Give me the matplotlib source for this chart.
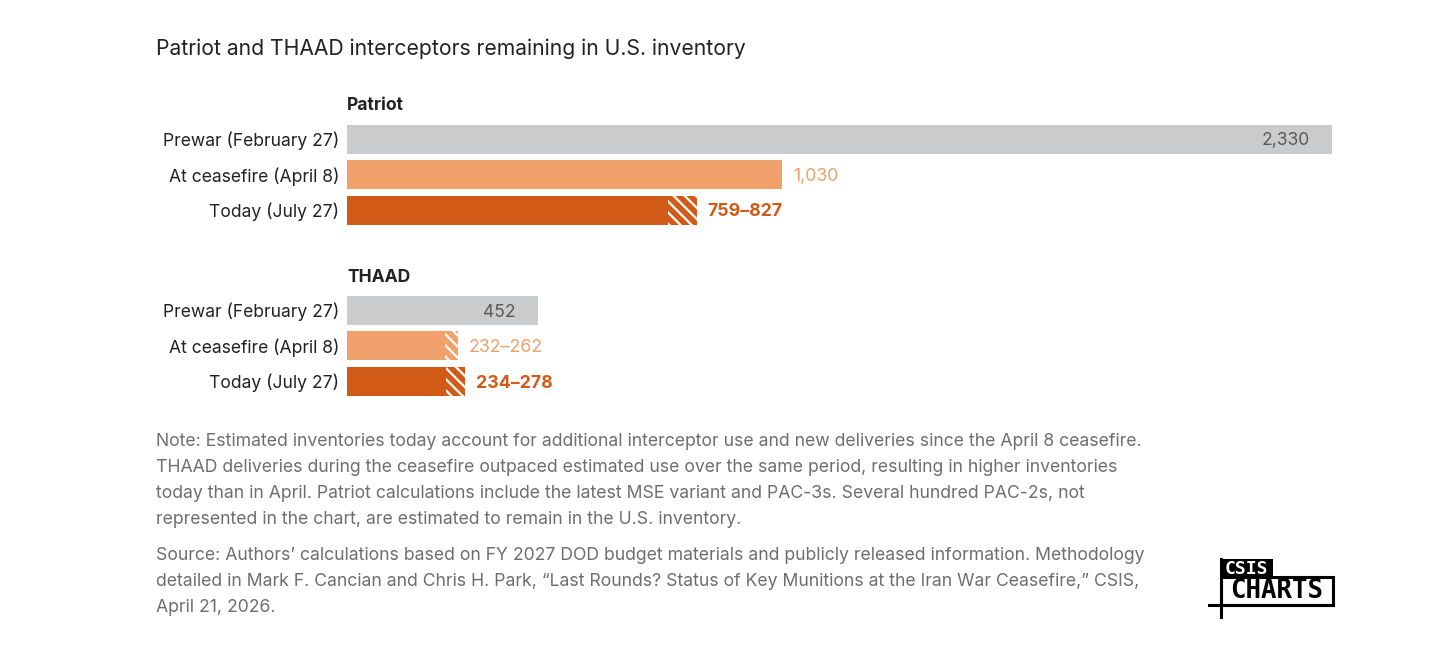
import matplotlib

matplotlib.use("Agg")

import matplotlib.pyplot as plt
from matplotlib.patches import Rectangle
from matplotlib.lines import Line2D

plt.rcParams["font.family"] = ["Inter", "DejaVu Sans"]
plt.rcParams["hatch.linewidth"] = 1.6

# data
groups = ["Patriot", "THAAD"]
categories = ["Prewar (February 27)", "At ceasefire (April 8)", "Today (July 27)"]
patriot_low = [2330, 1030, 759]
patriot_high = [2330, 1030, 827]
thaad_low = [452, 232, 234]
thaad_high = [452, 262, 278]
patriot_labels = ["2,330", "1,030", "759–827"]
thaad_labels = ["452", "232–262", "234–278"]

_C = {
    "prewar": "#c9cbcd",
    "ceasefire": "#f0a06a",
    "today": "#d05a16",
    "prewar_text": "#5a5a5a",
    "text": "#222222",
    "note": "#6e6e6e",
}
bar_colors = [_C["prewar"], _C["ceasefire"], _C["today"]]
label_colors = [_C["prewar_text"], _C["ceasefire"], _C["today"]]
label_weights = ["normal", "normal", "bold"]

W, H = 1456, 651
fig = plt.figure(figsize=(W / 100, H / 100), dpi=100, facecolor="white")

# axes spans x 347..1332 px, y 100..400 px
row_px = 35.5
ax = fig.add_axes([347 / W, 1 - 400 / H, 985 / W, 300 / H])
ax.set_xlim(0, 2330)
ax.set_ylim((400 - 139) / row_px, (100 - 139) / row_px)
ax.axis("off")

group_offsets = [0, 4.82]
bar_h = 29 / row_px

for g, (name, lows, highs, labels, off) in enumerate(
    zip(groups, [patriot_low, thaad_low], [patriot_high, thaad_high],
        [patriot_labels, thaad_labels], group_offsets)
):
    ax.text(0, off - 0.93, name, fontsize=12.6, fontweight="bold",
            color=_C["text"], ha="left", va="center")
    for i, cat in enumerate(categories):
        y = off + i
        lo, hi = lows[i], highs[i]
        ax.barh(y, lo, height=bar_h, color=bar_colors[i], linewidth=0)
        if hi > lo:
            ax.barh(y, hi - lo, left=lo, height=bar_h, color=bar_colors[i],
                    edgecolor="white", hatch="\\\\\\", linewidth=0)
        ax.annotate(cat, xy=(0, y), xytext=(-8, -2), textcoords="offset pixels",
                    ha="right", va="center", fontsize=12.6, color=_C["text"])
        if i == 0:
            ax.annotate(labels[i], xy=(hi, y), xytext=(-22, -2),
                        textcoords="offset pixels", ha="right", va="center",
                        fontsize=12.6, color=label_colors[i])
        else:
            ax.annotate(labels[i], xy=(hi, y), xytext=(11, -2),
                        textcoords="offset pixels", ha="left", va="center",
                        fontsize=12.8, color=label_colors[i],
                        fontweight=label_weights[i])

fig.text(156 / W, 1 - 49 / H, "Patriot and THAAD interceptors remaining in U.S. inventory",
         fontsize=15.2, color=_C["text"], ha="left", va="center")

note_lines = [
    "Note: Estimated inventories today account for additional interceptor use and new deliveries since the April 8 ceasefire.",
    "THAAD deliveries during the ceasefire outpaced estimated use over the same period, resulting in higher inventories",
    "today than in April. Patriot calculations include the latest MSE variant and PAC-3s. Several hundred PAC-2s, not",
    "represented in the chart, are estimated to remain in the U.S. inventory.",
]
source_lines = [
    "Source: Authors\u2019 calculations based on FY 2027 DOD budget materials and publicly released information. Methodology",
    "detailed in Mark F. Cancian and Chris H. Park, \u201cLast Rounds? Status of Key Munitions at the Iran War Ceasefire,\u201d CSIS,",
    "April 21, 2026.",
]
for k, line in enumerate(note_lines):
    fig.text(156 / W, 1 - (441 + 26.3 * k) / H, line, fontsize=12.7,
             color=_C["note"], ha="left", va="center")
for k, line in enumerate(source_lines):
    fig.text(156 / W, 1 - (555 + 26 * k) / H, line, fontsize=12.7,
             color=_C["note"], ha="left", va="center")

# CSIS CHARTS logo
def px_rect(x0, y0, x1, y1, **kw):
    fig.patches.append(Rectangle((x0 / W, 1 - y1 / H), (x1 - x0) / W, (y1 - y0) / H,
                                 transform=fig.transFigure, **kw))

px_rect(1220, 559, 1273, 577, facecolor="black", edgecolor="none")
px_rect(1221, 577, 1333, 605, facecolor="white", edgecolor="black", linewidth=2.2)
fig.lines.append(Line2D([1209 / W, 1333 / W], [1 - 605 / H, 1 - 605 / H],
                        transform=fig.transFigure, color="black", linewidth=2.2))
fig.lines.append(Line2D([1221 / W, 1221 / W], [1 - 559 / H, 1 - 617 / H],
                        transform=fig.transFigure, color="black", linewidth=2.2))
fig.text(1246 / W, 1 - 568.5 / H, "CSIS", fontsize=13, fontweight="bold", color="white",
         ha="center", va="center", family="DejaVu Sans Mono")
fig.text(1277 / W, 1 - 591.5 / H, "CHARTS", fontsize=18.5, fontweight="bold",
         color="black", ha="center", va="center", family="DejaVu Sans Mono")

fig.savefig("out.png", dpi=100, facecolor="white")
